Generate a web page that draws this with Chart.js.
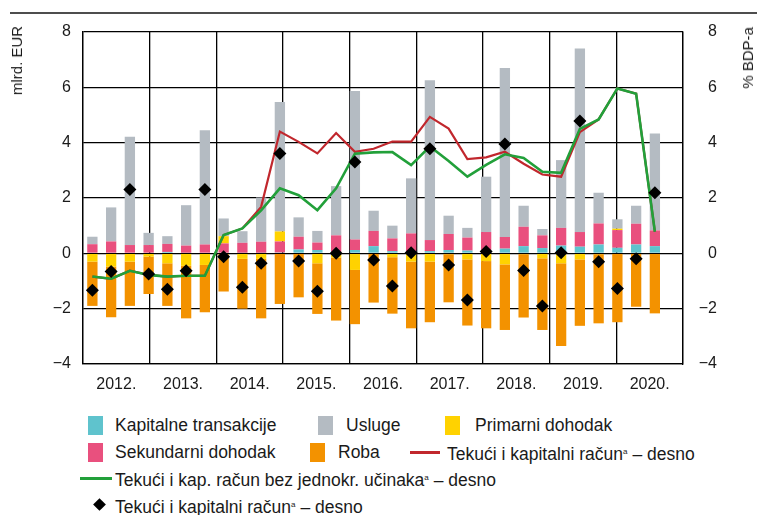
<!DOCTYPE html>
<html><head><meta charset="utf-8">
<script src="https://cdn.jsdelivr.net/npm/chart.js@4.4.1/dist/chart.umd.min.js"></script>
<style>
html,body{margin:0;padding:0;background:#fff;}
body{width:757px;height:515px;position:relative;overflow:hidden;font-family:"Liberation Sans",Arial,sans-serif;color:#1a1a1a;}
#wrap{position:absolute;left:0;top:0;width:757px;height:400px;}
.topline{position:absolute;left:10px;top:12px;width:747px;height:2px;background:#4d4d4d;}
.vt{position:absolute;writing-mode:vertical-rl;transform:rotate(180deg);font-size:15px;line-height:16px;white-space:nowrap;}
.leg{position:absolute;font-size:17.5px;line-height:20px;white-space:nowrap;}
.sw{position:absolute;width:15px;height:19px;}
.ln{position:absolute;height:3px;}
sup{font-size:8px;vertical-align:6px;}
</style>
</head><body>
<div class="topline"></div>
<div id="wrap"><canvas id="c" width="757" height="400"></canvas></div>
<div class="vt" style="left:9px;top:26px;">mlrd. EUR</div>
<div class="vt" style="left:740px;top:27px;">% BDP-a</div>

<div class="sw" style="left:88px;top:416px;background:#5fc3cd"></div>
<div class="leg" style="left:115px;top:415px;">Kapitalne transakcije</div>
<div class="sw" style="left:318px;top:416px;background:#b4bbc2"></div>
<div class="leg" style="left:346px;top:415px;">Usluge</div>
<div class="sw" style="left:445px;top:416px;background:#ffd200"></div>
<div class="leg" style="left:475px;top:415px;">Primarni dohodak</div>

<div class="sw" style="left:88px;top:443px;background:#e9507e"></div>
<div class="leg" style="left:115px;top:442px;">Sekundarni dohodak</div>
<div class="sw" style="left:310px;top:443px;background:#f39200"></div>
<div class="leg" style="left:338px;top:442px;">Roba</div>
<div class="ln" style="left:410px;top:451px;width:30px;background:#c1272d"></div>
<div class="leg" style="left:447px;top:442px;">Tekući i kapitalni račun<sup>a</sup> – desno</div>

<div class="ln" style="left:80px;top:477px;width:32px;background:#22a03a"></div>
<div class="leg" style="left:115px;top:468px;">Tekući i kap. račun bez jednokr. učinaka<sup>a</sup> – desno</div>

<div style="position:absolute;left:95px;top:500px;width:9px;height:9px;background:#000;transform:rotate(45deg)"></div>
<div class="leg" style="left:115px;top:495px;">Tekući i kapitalni račun<sup>a</sup> – desno</div>

<script>
const quarters = ['1/12','2/12','3/12','4/12','1/13','2/13','3/13','4/13','1/14','2/14','3/14','4/14','1/15','2/15','3/15','4/15','1/16','2/16','3/16','4/16','1/17','2/17','3/17','4/17','1/18','2/18','3/18','4/18','1/19','2/19','3/19',''];
const years = ['2012.','2013.','2014.','2015.','2016.','2017.','2018.','2019.','2020.'];
const yTicks = [-4,-2,0,2,4,6,8];

const kapitalne = [0,0,0,0,0.05,0.02,0,0,0.02,0.02,0.03,0.14,0.12,0.05,0.12,0.26,0.08,0.08,0.08,0.12,0.1,0.12,0.17,0.26,0.19,0.28,0.24,0.32,0.2,0.32,0.26];
const sekundarni = [0.33,0.43,0.3,0.3,0.29,0.26,0.32,0.36,0.36,0.4,0.4,0.46,0.27,0.6,0.38,0.55,0.46,0.64,0.4,0.58,0.47,0.65,0.42,0.7,0.46,0.64,0.53,0.76,0.64,0.75,0.57];
const primarni = [-0.3,-0.48,-0.3,-0.12,-0.36,-0.45,-0.42,0.26,-0.2,-0.2,0.36,0,-0.36,-0.15,-0.6,0,-0.14,-0.3,-0.3,-0.03,-0.22,-0.28,-0.4,-0.03,-0.18,-0.36,-0.22,-0.03,0.05,0,0];
const usluge = [0.27,1.23,3.91,0.44,0.28,1.46,4.13,0.64,0.42,1.6,4.68,0.7,0.42,1.78,5.37,0.73,0.46,1.99,5.78,0.66,0.35,2.0,6.11,0.76,0.23,2.45,6.63,1.11,0.34,0.65,3.5];
const roba = [-1.6,-1.83,-1.6,-1.35,-1.54,-1.9,-1.71,-1.38,-1.8,-2.15,-1.83,-1.59,-1.83,-2.28,-1.96,-1.78,-2.04,-2.41,-2.19,-1.74,-2.39,-2.43,-2.37,-2.29,-2.59,-2.99,-2.4,-2.5,-2.49,-1.93,-2.17];
const racunDiamond = [-1.33,-0.66,2.31,-0.75,-1.3,-0.63,2.31,-0.12,-1.23,-0.36,3.61,-0.28,-1.37,0,3.3,-0.24,-1.18,0.02,3.78,-0.42,-1.69,0.07,3.95,-0.62,-1.9,0.02,4.78,-0.3,-1.27,-0.2,2.19];
const racunLine = [-0.84,-0.92,-0.63,-0.78,-0.84,-0.81,-0.81,0.66,0.9,1.68,4.4,4.03,3.61,4.35,3.67,3.78,4.04,4.04,4.93,4.51,3.41,3.47,3.67,3.24,2.85,2.77,4.38,4.84,5.96,5.77,0.78];
const bezJednokr = [-0.84,-0.92,-0.63,-0.78,-0.84,-0.81,-0.81,0.66,0.9,1.55,2.35,2.1,1.56,2.35,3.6,3.65,3.66,3.19,3.86,3.34,2.77,3.2,3.58,3.45,2.95,2.91,4.5,4.84,5.96,5.77,0.78];

const FONT = '"Liberation Sans",Arial,sans-serif';
Chart.defaults.font.family = FONT;
Chart.defaults.color = '#1a1a1a';
const fmt = v => v < 0 ? '\u2212' + Math.abs(v) : String(v);
const barDs = (label, data, color) => ({type:'bar', label, data, backgroundColor:color, borderWidth:0, stack:'s', xAxisID:'x', yAxisID:'y', order:3, barPercentage:0.55, categoryPercentage:1.0});

new Chart(document.getElementById('c'), {
  type:'bar',
  data:{labels:quarters, datasets:[
    {type:'line', label:'Tekući i kapitalni račun (točke)', data:racunDiamond, showLine:false, pointStyle:'rectRot', pointRadius:6.5, pointBackgroundColor:'#000', pointBorderColor:'#000', pointBorderWidth:0, xAxisID:'x', yAxisID:'y1', order:0},
    {type:'line', label:'Tekući i kap. račun bez jednokr. učinaka', data:bezJednokr, borderColor:'#22a03a', borderWidth:2.6, pointRadius:0, tension:0, fill:false, xAxisID:'x', yAxisID:'y1', order:1},
    {type:'line', label:'Tekući i kapitalni račun', data:racunLine, borderColor:'#c1272d', borderWidth:2.2, pointRadius:0, tension:0, fill:false, xAxisID:'x', yAxisID:'y1', order:2},
    barDs('Kapitalne transakcije', kapitalne, '#5fc3cd'),
    barDs('Sekundarni dohodak', sekundarni, '#e9507e'),
    barDs('Primarni dohodak', primarni, '#ffd200'),
    barDs('Usluge', usluge, '#b4bbc2'),
    barDs('Roba', roba, '#f39200')
  ]},
  options:{
    responsive:false, animation:false, devicePixelRatio:1,
    layout:{padding:{top:32,right:40,left:0,bottom:0}},
    plugins:{legend:{display:false}, tooltip:{enabled:false}},
    scales:{
      x:{type:'category', display:false, offset:true, stacked:true},
      x2:{type:'category', labels:years, position:'bottom', offset:true,
          grid:{offset:true, color:'#000', lineWidth:1.3, drawTicks:false},
          border:{display:true, color:'#000', width:1.3},
          ticks:{padding:11, font:{size:16}, color:'#1a1a1a'},
          afterFit(s){ s.height = 36; }},
      y:{type:'linear', position:'left', min:-4, max:8, stacked:true,
         afterBuildTicks(s){ s.ticks = yTicks.map(v => ({value:v})); },
         grid:{color:'#000', lineWidth:1.3, drawTicks:false},
         border:{display:true, color:'#000', width:1.3},
         ticks:{padding:12, font:{size:16}, color:'#1a1a1a', callback:v => fmt(v)},
         afterFit(s){ s.width = 83; }},
      y1:{type:'linear', position:'right', min:-4, max:8,
          afterBuildTicks(s){ s.ticks = yTicks.map(v => ({value:v})); },
          grid:{display:false, drawTicks:false},
          border:{display:true, color:'#000', width:1.3},
          ticks:{crossAlign:'far', font:{size:16}, color:'#1a1a1a', callback:v => fmt(v)},
          afterFit(s){ s.width = 34; }}
    }
  }
});
</script>
</body></html>
